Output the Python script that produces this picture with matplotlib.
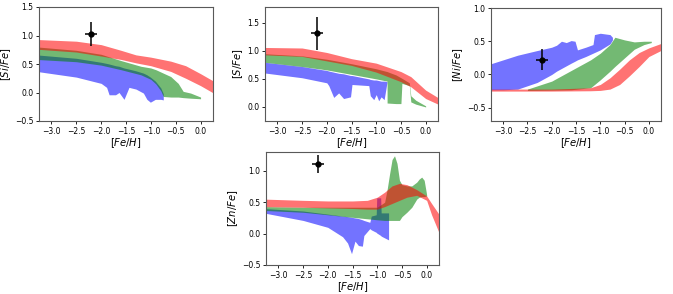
import numpy as np
import matplotlib
matplotlib.use("Agg")
import matplotlib.pyplot as plt

# observed star
star_feh, star_feh_err = -2.2, 0.12
star_si, star_si_err = 1.02, 0.21
star_s, star_s_err = 1.31, 0.29
star_ni, star_ni_err = 0.22, 0.16
star_zn, star_zn_err = 1.11, 0.14

# [Si/Fe] model bands
si_red_x = [-3.3, -2.5, -2.0, -1.6, -1.3, -1.0, -0.6, -0.3, 0.0, 0.3]
si_red_lo = [0.76, 0.71, 0.64, 0.58, 0.52, 0.47, 0.37, 0.25, 0.12, -0.03]
si_red_hi = [0.93, 0.90, 0.84, 0.74, 0.66, 0.62, 0.55, 0.47, 0.33, 0.18]
si_green_x = [-3.3, -2.5, -2.0, -1.6, -1.2, -1.0, -0.9, -0.8, -0.75, -0.6, -0.45, -0.35, -0.2, 0.0]
si_green_lo = [0.58, 0.54, 0.48, 0.40, 0.31, 0.23, 0.15, 0.03, -0.07, -0.08, -0.08, -0.09, -0.10, -0.11]
si_green_hi = [0.80, 0.74, 0.67, 0.56, 0.46, 0.43, 0.40, 0.36, 0.34, 0.28, 0.16, 0.02, -0.01, -0.08]
si_blue_x = [-3.3, -2.5, -2.0, -1.89, -1.84, -1.71, -1.64, -1.54, -1.44, -1.3, -1.15, -1.08, -1.01, -0.91, -0.8, -0.75]
si_blue_lo = [0.37, 0.27, 0.16, 0.09, -0.04, -0.04, 0.0, -0.12, 0.09, 0.06, -0.01, -0.12, -0.17, -0.12, -0.12, -0.13]
si_blue_hi = [0.66, 0.60, 0.53, 0.51, 0.50, 0.47, 0.46, 0.43, 0.41, 0.38, 0.34, 0.31, 0.27, 0.2, 0.08, -0.02]

# [S/Fe] model bands
s_red_x = [-3.3, -2.5, -2.0, -1.5, -1.0, -0.5, -0.3, 0.0, 0.3]
s_red_lo = [0.93, 0.90, 0.82, 0.74, 0.62, 0.45, 0.36, 0.15, 0.03]
s_red_hi = [1.06, 1.05, 0.97, 0.86, 0.78, 0.63, 0.54, 0.30, 0.14]
s_green_x = [-3.3, -2.5, -2.0, -1.5, -1.0, -0.78, -0.78, -0.6, -0.5, -0.48, -0.33, -0.3, -0.2, 0.0]
s_green_lo = [0.80, 0.72, 0.66, 0.58, 0.50, 0.46, 0.07, 0.06, 0.06, 0.42, 0.38, 0.09, 0.05, 0.0]
s_green_hi = [0.95, 0.91, 0.85, 0.77, 0.68, 0.63, 0.63, 0.57, 0.52, 0.51, 0.43, 0.2, 0.12, 0.02]
s_blue_x = [-3.3, -2.5, -2.0, -1.96, -1.86, -1.76, -1.66, -1.52, -1.49, -1.15, -1.12, -1.05, -1.0, -0.95, -0.9, -0.84, -0.78]
s_blue_lo = [0.61, 0.52, 0.43, 0.38, 0.17, 0.25, 0.15, 0.18, 0.40, 0.38, 0.20, 0.13, 0.22, 0.11, 0.18, 0.13, 0.45]
s_blue_hi = [0.80, 0.72, 0.65, 0.64, 0.62, 0.60, 0.59, 0.56, 0.56, 0.50, 0.49, 0.48, 0.48, 0.47, 0.46, 0.46, 0.45]

# [Ni/Fe] model bands
ni_red_x = [-3.3, -2.0, -1.2, -1.0, -0.8, -0.6, -0.4, -0.2, 0.0, 0.3]
ni_red_lo = [-0.25, -0.25, -0.245, -0.24, -0.22, -0.15, -0.02, 0.12, 0.27, 0.38]
ni_red_hi = [-0.22, -0.22, -0.20, -0.15, -0.05, 0.08, 0.22, 0.33, 0.40, 0.48]
ni_green_x = [-2.5, -2.0, -1.6, -1.2, -1.0, -0.8, -0.7, -0.5, -0.3, -0.1, 0.05]
ni_green_lo = [-0.24, -0.235, -0.23, -0.20, -0.08, 0.05, 0.12, 0.25, 0.38, 0.45, 0.48]
ni_green_hi = [-0.22, -0.10, 0.06, 0.22, 0.32, 0.45, 0.56, 0.52, 0.49, 0.50, 0.50]
ni_blue_x = [-3.3, -3.0, -2.7, -2.3, -2.0, -1.9, -1.8, -1.7, -1.6, -1.52, -1.47, -1.3, -1.15, -1.12, -1.0, -0.8, -0.75]
ni_blue_lo = [-0.23, -0.23, -0.22, -0.12, 0.0, 0.05, 0.09, 0.13, 0.17, 0.20, 0.22, 0.27, 0.32, 0.33, 0.37, 0.46, 0.52]
ni_blue_hi = [0.15, 0.22, 0.29, 0.36, 0.41, 0.44, 0.50, 0.48, 0.51, 0.50, 0.37, 0.41, 0.45, 0.60, 0.62, 0.60, 0.56]

# [Zn/Fe] model bands
zn_red_x = [-3.3, -2.5, -2.0, -1.5, -1.2, -1.0, -0.85, -0.7, -0.55, -0.4, -0.2, 0.0, 0.1, 0.3]
zn_red_lo = [0.43, 0.42, 0.41, 0.40, 0.39, 0.39, 0.43, 0.48, 0.53, 0.58, 0.61, 0.53, 0.30, -0.08]
zn_red_hi = [0.55, 0.53, 0.52, 0.52, 0.53, 0.58, 0.66, 0.76, 0.80, 0.78, 0.70, 0.60, 0.48, 0.25]
zn_green_x = [-3.3, -2.5, -2.0, -1.5, -1.0, -0.85, -0.8, -0.75, -0.7, -0.65, -0.6, -0.55, -0.5, -0.4, -0.3, -0.2, -0.15, -0.1, -0.05, 0.0]
zn_green_lo = [0.37, 0.34, 0.30, 0.26, 0.22, 0.21, 0.21, 0.21, 0.21, 0.21, 0.21, 0.21, 0.27, 0.34, 0.42, 0.55, 0.58, 0.59, 0.59, 0.60]
zn_green_hi = [0.43, 0.42, 0.42, 0.42, 0.42, 0.50, 0.70, 0.95, 1.18, 1.24, 1.12, 0.85, 0.78, 0.76, 0.76, 0.82, 0.87, 0.90, 0.85, 0.62]
zn_blue_x = [-3.3, -2.5, -2.0, -1.7, -1.6, -1.52, -1.45, -1.38, -1.3, -1.27, -1.15, -1.12, -1.02, -1.01, -0.93, -0.92, -0.77]
zn_blue_lo = [0.33, 0.21, 0.10, -0.05, -0.15, -0.32, -0.12, -0.19, -0.20, -0.03, 0.08, 0.06, 0.02, 0.01, -0.03, -0.04, -0.10]
zn_blue_hi = [0.40, 0.36, 0.31, 0.28, 0.27, 0.26, 0.25, 0.24, 0.22, 0.21, 0.18, 0.28, 0.30, 0.57, 0.57, 0.33, 0.33]

panels = [
    ("$[Si/Fe]$", (-0.5, 1.5), [-0.5, 0.0, 0.5, 1.0, 1.5],
     (si_blue_x, si_blue_lo, si_blue_hi), (si_green_x, si_green_lo, si_green_hi),
     (si_red_x, si_red_lo, si_red_hi), star_si, star_si_err,
     [39, 121, 174, 114]),
    ("$[S/Fe]$", (-0.25, 1.78), [0.0, 0.5, 1.0, 1.5],
     (s_blue_x, s_blue_lo, s_blue_hi), (s_green_x, s_green_lo, s_green_hi),
     (s_red_x, s_red_lo, s_red_hi), star_s, star_s_err,
     [265, 121, 173, 114]),
    ("$[Ni/Fe]$", (-0.7, 1.0), [-0.5, 0.0, 0.5, 1.0],
     (ni_blue_x, ni_blue_lo, ni_blue_hi), (ni_green_x, ni_green_lo, ni_green_hi),
     (ni_red_x, ni_red_lo, ni_red_hi), star_ni, star_ni_err,
     [491, 121, 170, 113]),
    ("$[Zn/Fe]$", (-0.5, 1.3), [-0.5, 0.0, 0.5, 1.0],
     (zn_blue_x, zn_blue_lo, zn_blue_hi), (zn_green_x, zn_green_lo, zn_green_hi),
     (zn_red_x, zn_red_lo, zn_red_hi), star_zn, star_zn_err,
     [266, 265, 173, 113]),
]

W, H = 673, 294
fig = plt.figure(figsize=(W / 100, H / 100), dpi=100)

for ylabel, ylim, yticks, blue, green, red, y0, yerr, box in panels:
    l, b, w, h = box
    ax = fig.add_axes([l / W, (H - b) / H, w / W, h / H])
    # blue, then green, then red on top
    for band, col in [(blue, 'b'), (green, 'g'), (red, 'r')]:
        ax.fill_between(band[0], band[1], band[2], color=col, alpha=0.55, lw=0)
    ax.errorbar(star_feh, y0, xerr=star_feh_err, yerr=yerr, fmt='o', c='k',
                ms=3.5, elinewidth=1.1, capsize=0)
    ax.set_xlim(-3.25, 0.25)
    ax.set_ylim(*ylim)
    ax.set_xticks(np.arange(-3.0, 0.01, 0.5))
    ax.set_yticks(yticks)
    ax.tick_params(labelsize=5.5, length=2.5, width=0.6, pad=1.5)
    ax.set_xlabel("$[Fe/H]$", fontsize=7.2, labelpad=0.3)
    ax.set_ylabel(ylabel, fontsize=7.2, labelpad=1.5)
    for sp in ax.spines.values():
        sp.set_linewidth(0.8)
        sp.set_color('0.35')

fig.savefig("out.png", dpi=100)
